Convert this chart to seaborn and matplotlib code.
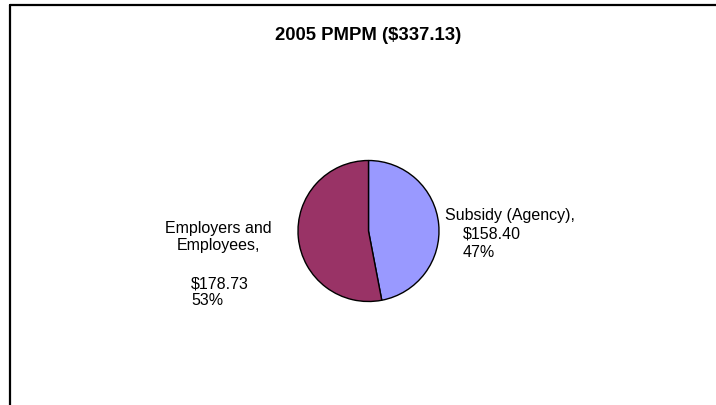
import matplotlib
matplotlib.use("Agg")
import matplotlib.pyplot as plt
from matplotlib.lines import Line2D
import seaborn as sns

# Data
categories = ["Subsidy (Agency)", "Employers and Employees"]
amounts = [158.40, 178.73]
colors = ["#9999FF", "#993366"]
title = "2005 PMPM ($337.13)"

sns.set_style("white")
plt.rcParams['font.family'] = ['Liberation Sans', 'DejaVu Sans']
plt.rcParams['text.color'] = 'black'

W, H = 716, 406
fig = plt.figure(figsize=(W / 100, H / 100), dpi=100)
fig.patch.set_facecolor("white")

# chart frame (only top and left edges show in the crop)
fig.add_artist(Line2D([9.5 / W, 9.5 / W], [0, 1 - 6 / H], transform=fig.transFigure,
                      color="black", lw=1.6))
fig.add_artist(Line2D([9.5 / W, 1], [1 - 6 / H, 1 - 6 / H], transform=fig.transFigure,
                      color="black", lw=1.6))

# pie axes: centre (368.5, 232) px, radius 70.5 px
cx, cy, r = 368.5, 232, 70.5
ax = fig.add_axes([(cx - r) / W, (H - cy - r) / H, 2 * r / W, 2 * r / H])
ax.pie(amounts, colors=colors, startangle=90, counterclock=False,
       wedgeprops=dict(edgecolor="black", linewidth=1.0))
ax.set_xlim(-1, 1)
ax.set_ylim(-1, 1)
ax.set_aspect("equal")
ax.axis("off")

total = sum(amounts)
pct = [round(a / total * 100) for a in amounts]


def px(x, y):
    return (x - cx) / r, (cy - y) / r


fs = 11.5
# Subsidy label
ax.text(*px(445, 220), f"{categories[0]},", fontsize=fs, ha="left", va="baseline", clip_on=False)
ax.text(*px(463, 239), f"${amounts[0]:.2f}", fontsize=fs, ha="left", va="baseline", clip_on=False)
ax.text(*px(463, 257), f"{pct[0]}%", fontsize=fs, ha="left", va="baseline", clip_on=False)

# Employers label
ax.text(*px(218, 233), "Employers and", fontsize=fs, ha="center", va="baseline", clip_on=False)
ax.text(*px(218, 250), "Employees,", fontsize=fs, ha="center", va="baseline", clip_on=False)
ax.text(*px(191, 288), f"${amounts[1]:.2f}", fontsize=fs, ha="left", va="baseline", clip_on=False)
ax.text(*px(191, 305), f"{pct[1]}%", fontsize=fs, ha="left", va="baseline", clip_on=False)

fig.text(368 / W, 1 - 40 / H, title, fontsize=13.3, fontweight="bold",
         ha="center", va="baseline")

fig.savefig("out.png", dpi=100, facecolor="white")
